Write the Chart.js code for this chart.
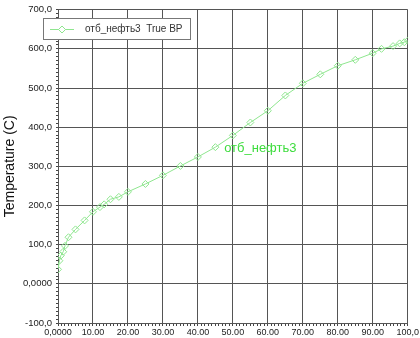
<!DOCTYPE html>
<html>
<head>
<meta charset="utf-8">
<script src="https://cdn.jsdelivr.net/npm/chart.js@4"></script>
<style>
  html, body { margin: 0; padding: 0; background: #fff; }
  #wrap { width: 420px; height: 338px; }
</style>
</head>
<body>
<div id="wrap"><canvas id="tbp"></canvas></div>
<script>
// cumulative volume % vs true boiling point temperature
const volPct = [0, 0.4, 0.8, 1.5, 2, 3, 5, 7.6, 10, 12, 13.2, 15, 17.4, 20, 25, 30, 35, 40, 45, 50,
    55, 60, 65, 70, 75, 80, 85, 90, 92.5, 95.8, 97.7, 99, 100];
const tempC = [37, 59, 72, 82, 97, 119, 139, 162, 184, 196, 203, 216, 222, 235, 255, 277, 301, 324, 349, 379,
    412, 442, 481, 512, 535, 557, 572, 589, 600, 607, 614, 617, 621];

const seriesName = "отб_нефть3";
const legendText = "отб_нефть3  True BP";
const yTitle = "Temperature (C)";

const xTickLabels = { 0: "0,0000", 10: "10.00", 20: "20.00", 30: "30.00", 40: "40.00", 50: "50.00",
    60: "60.00", 70: "70.00", 80: "80.00", 90: "90.00", 100: "100,0" };
const yTickLabels = { "-100": "-100,0", 0: "0,0000", 100: "100,0", 200: "200,0", 300: "300,0",
    400: "400,0", 500: "500,0", 600: "600,0", 700: "700,0" };

const green = "#8fe68f";
const gridCol = "#555";

/* ---------- legend box + curve label ---------- */
const overlay = {
    id: "overlay",
    afterDraw(chart) {
        const ctx = chart.ctx;
        const xs = chart.scales.x, ys = chart.scales.y;
        ctx.save();

        // legend box
        ctx.fillStyle = "#fff";
        ctx.fillRect(43, 18, 147, 21);
        ctx.strokeStyle = "#777";
        ctx.lineWidth = 1;
        ctx.strokeRect(43.5, 18.5, 147, 21);

        ctx.strokeStyle = green;
        ctx.beginPath();
        ctx.moveTo(50, 29.5);
        ctx.lineTo(74, 29.5);
        ctx.stroke();
        ctx.beginPath();
        ctx.moveTo(62, 26);
        ctx.lineTo(65.5, 29.5);
        ctx.lineTo(62, 33);
        ctx.lineTo(58.5, 29.5);
        ctx.closePath();
        ctx.fillStyle = "#fff";
        ctx.fill();
        ctx.stroke();

        ctx.fillStyle = "#333";
        ctx.font = "10px 'Liberation Sans'";
        ctx.textBaseline = "middle";
        ctx.fillText(legendText, 85, 29.5);

        // series label next to the curve
        ctx.fillStyle = "#3ddc3d";
        ctx.font = "13px 'Liberation Sans'";
        ctx.fillText(seriesName, xs.getPixelForValue(47.5), ys.getPixelForValue(345));
        ctx.restore();
    }
};

new Chart(document.getElementById("tbp"), {
    type: "line",
    data: {
        datasets: [{
            label: seriesName,
            data: volPct.map((v, i) => ({ x: v, y: tempC[i] })),
            borderColor: green,
            borderWidth: 1,
            backgroundColor: "rgba(255,255,255,0)",
            pointStyle: "rectRot",
            pointRadius: 3.5,
            pointBorderColor: green,
            pointBorderWidth: 1,
            pointBackgroundColor: "rgba(255,255,255,0)",
            tension: 0
        }]
    },
    options: {
        responsive: true,
        maintainAspectRatio: false,
        animation: false,
        layout: { padding: { left: 0, right: 12, top: 3, bottom: 0 } },
        plugins: { legend: { display: false }, tooltip: { enabled: false } },
        scales: {
            x: {
                type: "linear",
                min: 0,
                max: 100,
                afterFit(s) { s.height = 15; },
                border: { color: gridCol },
                grid: {
                    color: c => (c.tick && c.tick.value % 10 === 0) ? gridCol : "rgba(0,0,0,0)",
                    tickColor: "#444",
                    tickLength: 3
                },
                ticks: {
                    stepSize: 1,
                    autoSkip: false,
                    maxRotation: 0,
                    padding: 1,
                    color: "#222",
                    font: { family: "Liberation Sans", size: 9 },
                    callback: v => xTickLabels[v] || ""
                }
            },
            y: {
                min: -100,
                max: 700,
                afterFit(s) { s.width = 58; },
                border: { color: gridCol },
                grid: {
                    color: c => (c.tick && c.tick.value % 100 === 0) ? gridCol : "rgba(0,0,0,0)",
                    tickColor: "#444",
                    tickLength: 2
                },
                ticks: {
                    stepSize: 10,
                    autoSkip: false,
                    padding: 4,
                    color: "#222",
                    font: { family: "Liberation Sans", size: 9.5 },
                    callback: v => yTickLabels[v] || ""
                },
                title: {
                    display: true,
                    text: yTitle,
                    color: "#111",
                    padding: { top: 2, bottom: 0 },
                    font: { family: "Liberation Sans", size: 14 }
                }
            }
        }
    },
    plugins: [overlay]
});
</script>
</body>
</html>
